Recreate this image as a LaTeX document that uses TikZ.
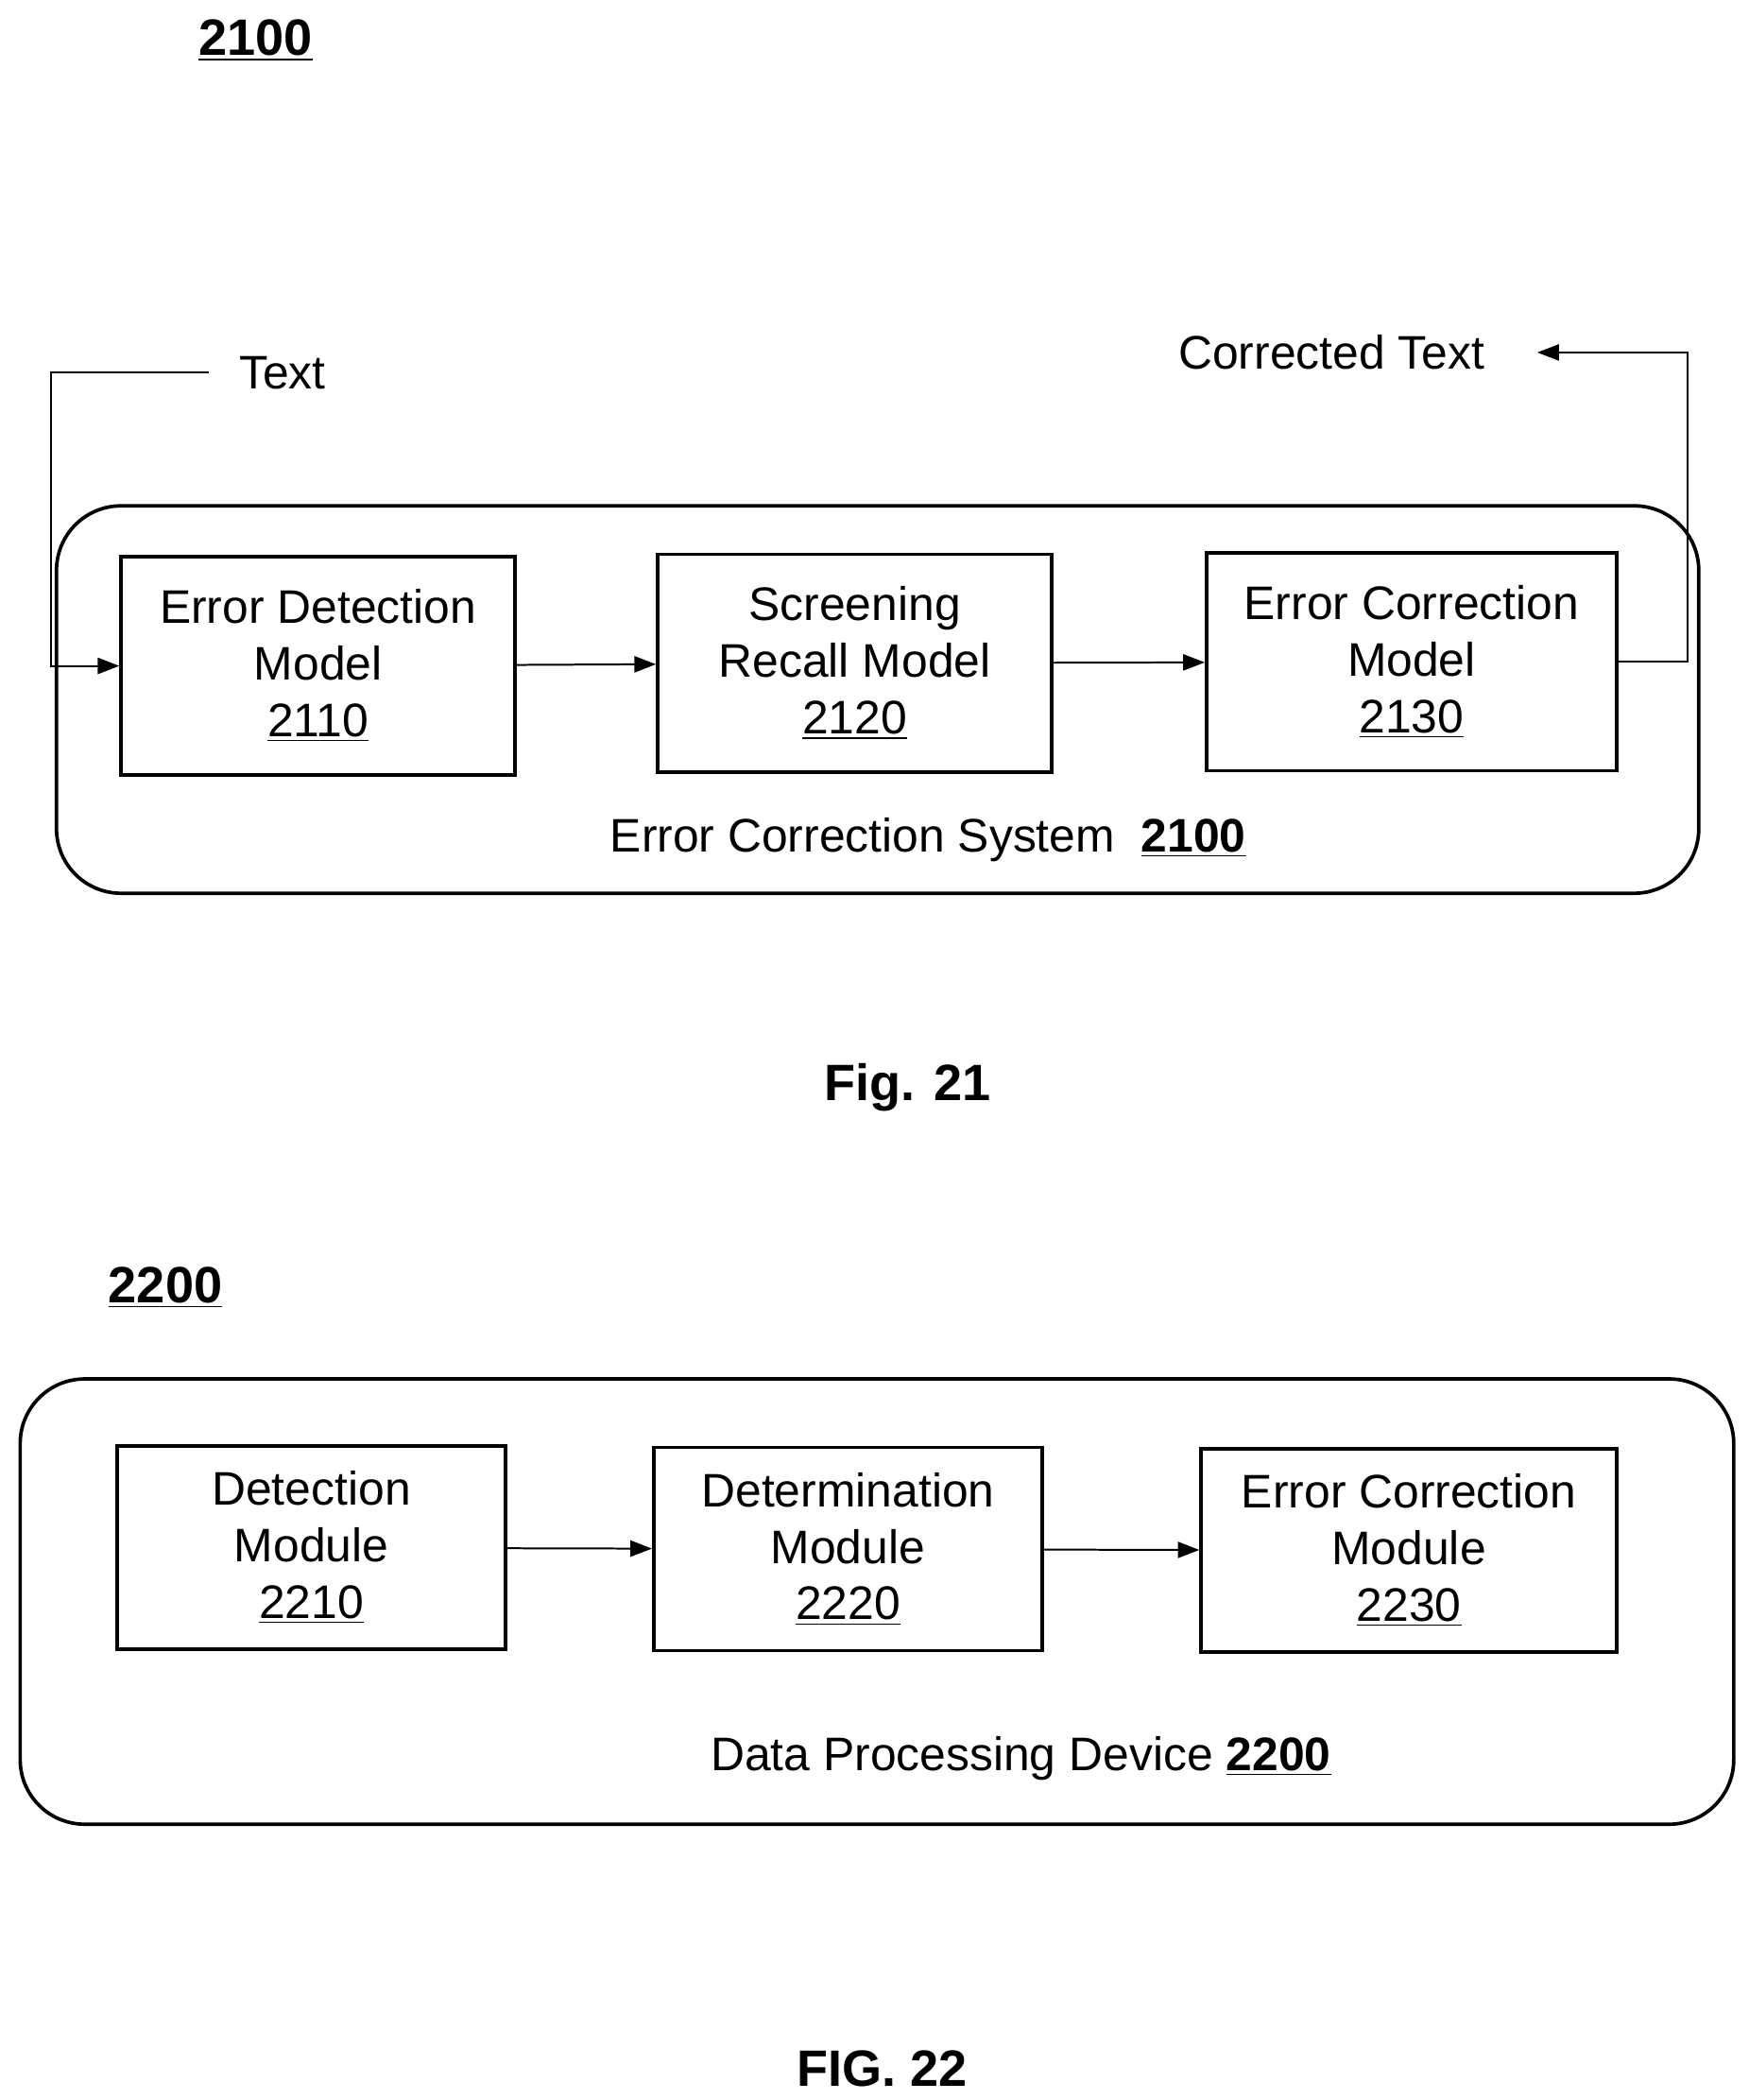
\documentclass[tikz,border=0pt]{standalone}
\usepackage{fontspec}
\setmainfont{Liberation Sans}
\usetikzlibrary{arrows.meta}
\begin{document}
\begin{tikzpicture}[x=0.5pt,y=-0.5pt,
 box/.style={draw,line width=1.3pt,align=center,font=\fontsize{17.5}{21}\selectfont},
 lbl/.style={font=\fontsize{17.5}{21}\selectfont},
 ttl/.style={font=\bfseries\fontsize{19}{23}\selectfont},
 arr/.style={-{Triangle[length=8pt,width=6pt]},line width=0.7pt},
 outer/.style={draw,line width=1.3pt,rounded corners=24pt}]
\useasboundingbox (0,0) rectangle (1300,1561);
\node[ttl] (t1) at (190,30) {\underline{2100}};
\draw[outer] (42,376) rectangle (1263,664);
\node[box,minimum width=146.5pt,minimum height=81pt] (b1) at (236.5,495) {Error Detection\\Model\\\underline{2110}};
\node[box,minimum width=146.5pt,minimum height=81pt] (b2) at (635.5,493) {Screening\\Recall Model\\\underline{2120}};
\node[box,minimum width=152.5pt,minimum height=81pt] (b3) at (1049.5,492) {Error Correction\\Model\\\underline{2130}};
\node[lbl] (txt) at (210,277) {Text};
\node[lbl] (ct) at (990,262) {Corrected Text};
\coordinate (i0) at (155,277);
\coordinate (i1) at (38,277);
\coordinate (o1) at (1255,262);
\coordinate (oe) at (1143,262);
\draw[arr] (i0) -- (i1) |- (b1.west);
\draw[arr] (b1) -- (b2);
\draw[arr] (b2) -- (b3);
\draw[arr] (b3.east) -| (o1) -- (oe);
\node[lbl] (sys) at (690,624) {Error Correction System\ \ \textbf{\underline{2100}}};
\node[ttl] (f21) at (675,808) {Fig. 21};
\node[ttl] (t2) at (123,957) {\underline{2200}};
\draw[outer] (15,1025) rectangle (1289,1356);
\node[box,minimum width=144.5pt,minimum height=75.5pt] (c1) at (231.5,1150.5) {Detection\\Module\\\underline{2210}};
\node[box,minimum width=144.5pt,minimum height=75.5pt] (c2) at (630.5,1151.5) {Determination\\Module\\\underline{2220}};
\node[box,minimum width=154.5pt,minimum height=75.5pt] (c3) at (1047.5,1152.5) {Error Correction\\Module\\\underline{2230}};
\draw[arr] (c1) -- (c2);
\draw[arr] (c2) -- (c3);
\node[lbl] (dev) at (759,1307) {Data Processing Device \textbf{\underline{2200}}};
\node[ttl] (f22) at (656,1538) {FIG. 22};
\end{tikzpicture}
\end{document}
